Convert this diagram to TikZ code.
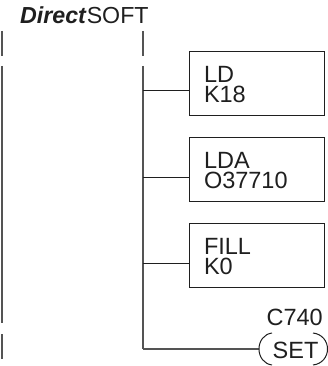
\documentclass[tikz,border=0pt]{standalone}
\usepackage{fontspec}
\setmainfont{Liberation Sans}
\usepackage{xcolor}
\usetikzlibrary{positioning}
\definecolor{railgray}{gray}{0.33}
\definecolor{inkgray}{gray}{0.12}
\tikzset{
  instbox/.style={draw=inkgray,line width=0.9pt,minimum width=135pt,minimum height=64pt,inner sep=0pt,text width=105pt,align=left,font=\fontsize{23.5}{20.5}\selectfont,text=inkgray,execute at begin node=\rule{0pt}{19pt}},
  rail/.style={draw=railgray,line width=1.6pt},
  branch/.style={draw=inkgray,line width=1pt},
  plain/.style={inner sep=0pt,font=\fontsize{23.5}{23.5}\selectfont,text=inkgray}
}
\begin{document}
\begin{tikzpicture}[x=1pt,y=-1pt]
    \useasboundingbox (0,0) rectangle (328,366);

    \node (title) at (20,23.5) [plain,anchor=base west,font=\fontsize{23.2}{23.2}\selectfont] {\textbf{\textit{Direct}}SOFT};

    \node (ld) at (256.5,83) [instbox] {LD\\K18};
    \node (lda) at (256.5,169) [instbox] {LDA\\O37710};
    \node (fill) at (256.5,255) [instbox] {FILL\\K0};
    \node (coil) at (295.5,358) [plain,anchor=base] {SET};
    \node (c740) at (323,325.5) [plain,anchor=base east] {C740};

    % power rails
    \coordinate (lefttop) at (2,31);
    \coordinate (lefttopend) at (2,56);
    \coordinate (leftmid) at (2,66);
    \coordinate (leftmidend) at (2,323);
    \coordinate (leftlow) at (2,334);
    \coordinate (leftlowend) at (2,359);
    \coordinate (righttop) at (143,31);
    \coordinate (righttopend) at (143,56);
    \coordinate (rightmid) at (143,66);
    \coordinate (rightend) at (143,349);

    \draw[rail] (lefttop) -- (lefttopend);
    \draw[rail] (leftmid) -- (leftmidend);
    \draw[rail] (leftlow) -- (leftlowend);
    \draw[rail] (righttop) -- (righttopend);
    \draw[rail] (rightmid) -- (rightend);

    \draw[branch] ([yshift=-8pt]ld.west) -- ([yshift=-8pt]ld.west -| rightmid);
    \draw[branch] ([yshift=-8pt]lda.west) -- ([yshift=-8pt]lda.west -| rightmid);
    \draw[branch] ([yshift=-8pt]fill.west) -- ([yshift=-8pt]fill.west -| rightmid);

    % coil brackets
    \coordinate (coilleft) at (259,349);
    \coordinate (coilright) at (327.5,349);
    \draw[rail] (rightend) -- (coilleft);
    \draw[branch] (272,333) .. controls (264,334) and (259,341) .. (coilleft) .. controls (259,357) and (264,364) .. (272,365);
    \draw[branch] (313,333) .. controls (322,334) and (327.5,341) .. (coilright) .. controls (327.5,357) and (322,364) .. (313,365);
\end{tikzpicture}
\end{document}
